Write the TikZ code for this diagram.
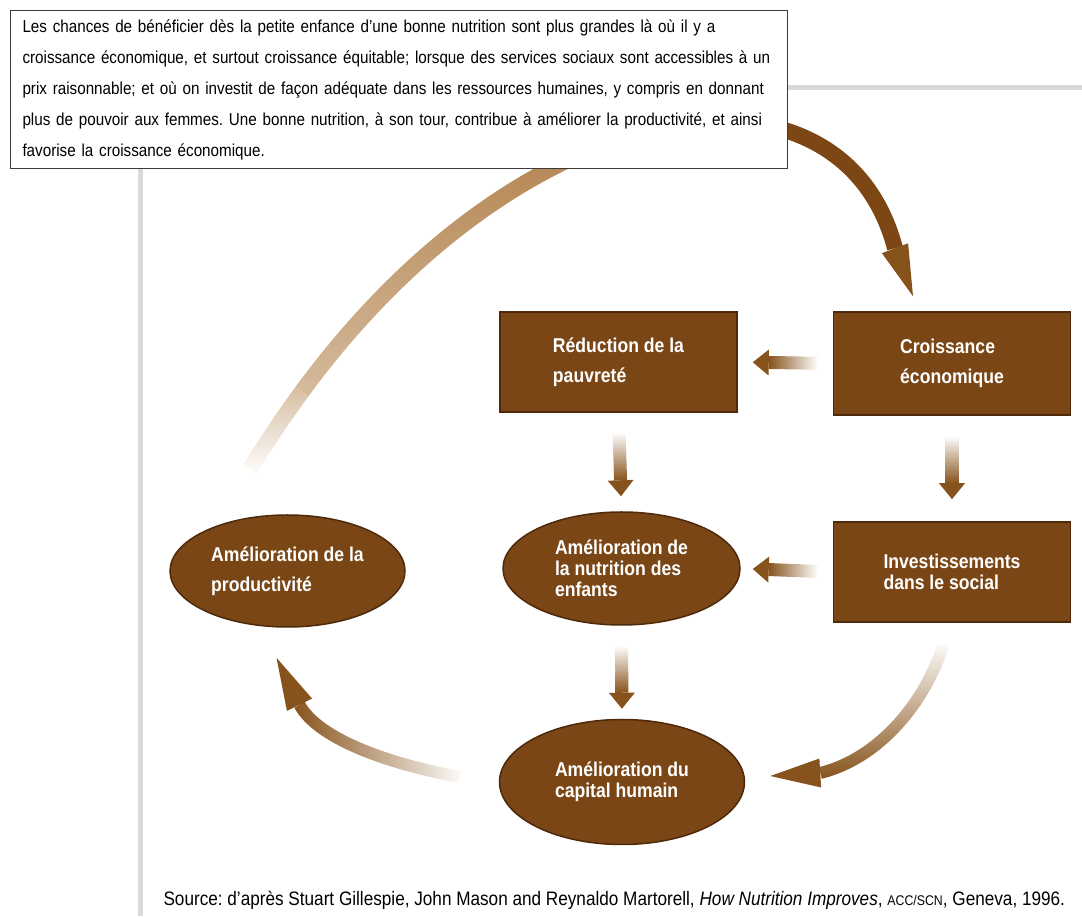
\documentclass[tikz,border=0pt]{standalone}
\usepackage{fontspec}
\setmainfont{Liberation Sans}[FakeStretch=0.88]
\usetikzlibrary{shapes.geometric,calc,fadings}

\definecolor{BoxBrown}{HTML}{7A4616}
\definecolor{BoxEdge}{HTML}{4E2A0A}
\definecolor{ArrowBrown}{HTML}{87531C}
\definecolor{ArcBrown}{HTML}{7C4715}
\definecolor{ArcTan}{HTML}{B3844F}
\definecolor{FrameGray}{HTML}{D9D9D9}
\definecolor{NoteGray}{HTML}{3C3C3C}

\tikzfading[name=faderight, left color=transparent!0, right color=transparent!100]
\tikzfading[name=fadeup, top color=transparent!100, bottom color=transparent!0]
\tikzfading[name=fadehalf, top color=transparent!0, bottom color=transparent!45]
\tikzfading[name=fadeout, top color=transparent!45, bottom color=transparent!100]

% straight fat arrow: shading, from, to, gap at from, gap at to
\newcommand{\fatarrow}[5]{%
  \coordinate (fs) at ($#2!#4!#3$);
  \coordinate (fe) at ($#3!#5!#2$);
  \coordinate (fb) at ($(fe)!16pt!(fs)$);
  \shade[#1] ($(fs)!6.5pt!90:(fe)$) -- ($(fb)!6.5pt!-90:(fs)$)
    -- ($(fb)!6.5pt!90:(fs)$) -- ($(fs)!6.5pt!-90:(fe)$) -- cycle;
  \fill[ArrowBrown] ($(fb)!13pt!-90:(fs)$) -- (fe) -- ($(fb)!13pt!90:(fs)$) -- cycle;
}
% head of a curved arrow: base, tip, half width
\newcommand{\fathead}[3]{%
  \fill[ArrowBrown] ($#1!#3!90:#2$) -- #2 -- ($#1!#3!-90:#2$) -- cycle;
}

\begin{document}
\begin{tikzpicture}[x=1pt,y=1pt,
    rectbox/.style={draw=BoxEdge, line width=1.5pt, fill=BoxBrown, text=white,
      minimum width=237pt, minimum height=100pt, align=left,
      font=\bfseries\fontsize{20}{30}\selectfont},
    ovalbox/.style={ellipse, draw=BoxEdge, line width=1.5pt, fill=BoxBrown, text=white,
      minimum width=237pt, minimum height=113pt, inner sep=0pt, align=left,
      font=\bfseries\fontsize{20}{21}\selectfont},
    tight/.style={font=\bfseries\fontsize{20}{21}\selectfont},
    loose/.style={font=\bfseries\fontsize{20}{30}\selectfont},
    notebox/.style={draw=NoteGray, line width=1pt, fill=white, anchor=north west,
      minimum width=777pt, minimum height=158pt, text width=753pt,
      inner xsep=12pt, inner ysep=0pt, align=left,
      font=\frenchspacing\fontsize{17.3}{31}\selectfont},
    frameline/.style={draw=FrameGray, line width=5pt},
    arcshaft/.style={line width=16pt},
    curveshaft/.style={draw=ArrowBrown, line width=12pt}]
  \useasboundingbox (0,0) rectangle (1082,916);

  % frame behind the diagram
  \draw[frameline] (1082,828) -- (140,828) -- (140,0);

  \node (reduc) [rectbox] at (618.5,554) {Réduction de la\\pauvreté};
  \node (croiss) [rectbox, minimum height=103pt] at (952,552.5) {Croissance\\économique};
  \node (invest) [rectbox, tight] at (952,344) {Investissements\\dans le social};
  \node (nutri) [ovalbox] at (621.5,347.5) {Amélioration de\\la nutrition des\\enfants};
  \node (prod) [ovalbox, loose, minimum width=235pt, minimum height=112pt] at (287.5,345) {Amélioration de la\\productivité};
  \node (capital) [ovalbox, minimum width=245pt, minimum height=125pt] at (622,134) {Amélioration du\\capital humain};

  % big arc from productivity back to growth
  \coordinate (arcstart) at ($(prod.north)+(-38,45)$);
  \coordinate (arclow) at (302.7,525.4);
  \coordinate (arcmid) at (600,770);
  \coordinate (arcbase) at ($(croiss.north)+(-57,63)$);
  \coordinate (arctip) at ($(croiss.north)+(-39,15)$);
  \draw[arcshaft, draw=ArcTan, path fading=fadeout] (arcstart) .. controls (266,472.8) and (283.6,499.4) .. (arclow);
  \draw[arcshaft, draw=ArcTan, path fading=fadehalf] (arclow) .. controls (379.2,629.2) and (480,722) .. (arcmid);
  \draw[arcshaft, draw=ArcBrown] (arcmid) .. controls +(120,50) and +(-35,133) .. (arcbase);
  \fathead{(arcbase)}{(arctip)}{14pt}

  \node (note) [notebox] at (10,906) {Les chances de bénéficier dès la petite enfance d’une bonne nutrition sont plus grandes là où il y a\\
    croissance économique, et surtout croissance équitable; lorsque des services sociaux sont accessibles à un\\
    prix raisonnable; et où on investit de façon adéquate dans les ressources humaines, y compris en donnant\\
    plus de pouvoir aux femmes. Une bonne nutrition, à son tour, contribue à améliorer la productivité, et ainsi\\
    favorise la croissance économique.};

  % straight arrows
  \fatarrow{left color=ArrowBrown, right color=white}{(croiss.west)}{(reduc.east)}{15pt}{15pt}
  \fatarrow{left color=ArrowBrown, right color=white}{(invest.west)}{(nutri.east)}{15pt}{12pt}
  \fatarrow{top color=white, bottom color=ArrowBrown}{(reduc.south)}{(nutri.north)}{20pt}{15pt}
  \fatarrow{top color=white, bottom color=ArrowBrown}{(croiss.south)}{(invest.north)}{20pt}{22pt}
  \fatarrow{top color=white, bottom color=ArrowBrown}{(nutri.south)}{(capital.north)}{20pt}{10pt}

  % curved arrows
  \coordinate (invtail) at ($(invest.south)+(-9,-23)$);
  \coordinate (capbase) at ($(capital.east)+(75,9)$);
  \coordinate (captip) at ($(capital.east)+(25,6)$);
  \draw[curveshaft, path fading=fadeup] (invtail) .. controls +(-18,-56) and +(60,15) .. (capbase);
  \fathead{(capbase)}{(captip)}{14.5pt}

  \coordinate (captail) at ($(capital.west)+(-39,5)$);
  \coordinate (prodbase) at ($(prod.south)+(12,-77)$);
  \coordinate (prodtip) at ($(prod.south)+(-11,-30)$);
  \draw[curveshaft, path fading=faderight] (captail) .. controls +(-61,11) and +(20,-37) .. (prodbase);
  \fathead{(prodbase)}{(prodtip)}{14pt}

  \node (source) [anchor=base west, font=\frenchspacing\fontsize{19.5}{22}\selectfont] at (160,11)
    {Source: d’après Stuart Gillespie, John Mason and Reynaldo Martorell, \textit{How Nutrition Improves}, {\fontsize{14}{14}\selectfont ACC/SCN}, Geneva, 1996.};
\end{tikzpicture}
\end{document}
